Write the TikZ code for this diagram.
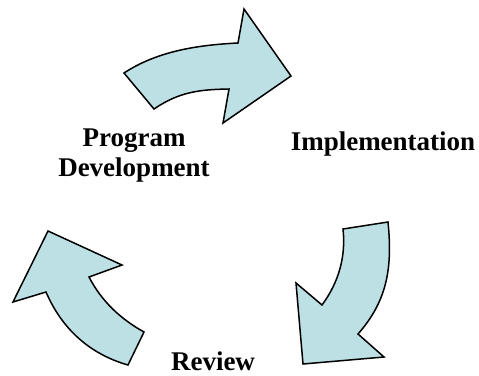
\documentclass[tikz,border=0pt]{standalone}
\usepackage{fontspec}
\setmainfont{Liberation Serif}
\usepackage{tikz}
\usetikzlibrary{shapes,arrows,positioning,calc}
\definecolor{cyclefill}{RGB}{188,224,228}
\tikzstyle{blockarrow} = [draw, fill=cyclefill, line width=1.5pt, line join=miter]
\tikzstyle{steptext} = [rectangle, inner sep=0pt, align=center, font=\fontsize{27}{30}\selectfont\bfseries]

\begin{document}
\begin{tikzpicture}[x=1pt, y=-1pt]
		\useasboundingbox (0,0) rectangle (479,375);
		
		% Arrow 1 (top)
		\draw[blockarrow] (124,73) .. controls (157.5,51) and (198,45) .. (238,43) -- (244,9) -- (291,76) -- (223,123) -- (229,89) .. controls (199,89.5) and (179,92) .. (154,109) -- cycle;
		
		% Arrow 2 (right)
		\draw[blockarrow] (388,222) .. controls (392.5,267) and (387.7,300.3) .. (358,334) -- (384,357) -- (303,364) -- (296,283) -- (322,305) .. controls (339,282) and (346,256) .. (343,229) -- cycle;
		
		% Arrow 3 (left)
		\draw[blockarrow] (144,332) .. controls (120.5,319) and (101.4,301) .. (89,277) -- (122,265) -- (48,231) -- (13,302) -- (46,292) .. controls (62,329) and (89.6,354) .. (128,365) -- cycle;
		
		% Labels
		\node[steptext] (Program) at (134,156) {Program\\Development};
		\node[steptext, anchor=base] (Implementation) at (383,150) {Implementation};
		\node[steptext, anchor=base] (Review) at (213,370) {Review};
		
	\end{tikzpicture}
\end{document}
